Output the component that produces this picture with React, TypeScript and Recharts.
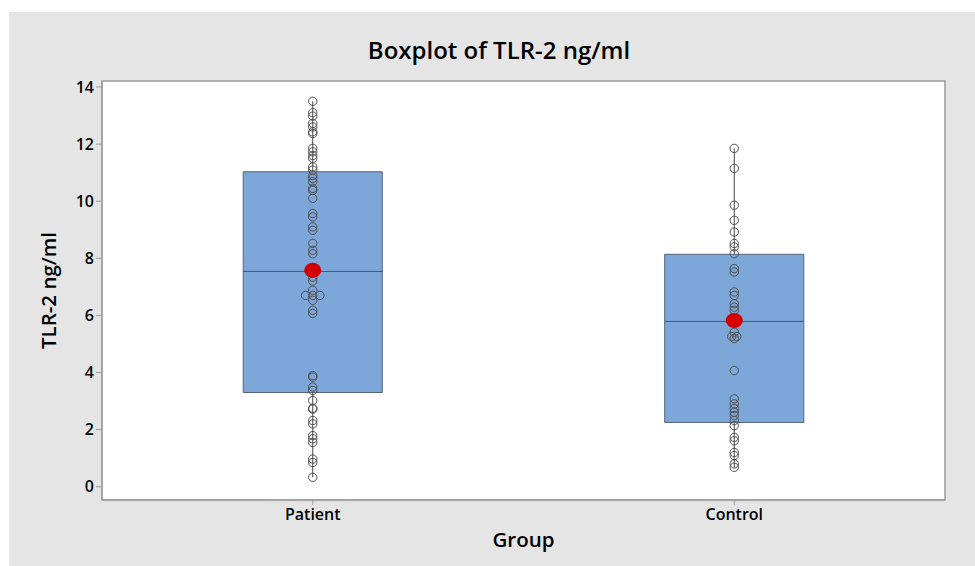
import React from 'react';
import { ComposedChart, XAxis, YAxis, Scatter, ReferenceArea, ReferenceLine } from 'recharts';

const groups = ['Patient', 'Control'];
const groupPos = [1, 2];

const patientValues = [
  13.5, 13.1, 12.98, 12.73, 12.6, 12.43, 12.37, 11.85, 11.73, 11.6, 11.5, 11.2, 11.09, 10.9, 10.8,
  10.68, 10.45, 10.38, 10.1, 9.57, 9.45, 9.1, 8.98, 8.52, 8.28, 8.16, 7.34, 7.2, 6.88, 6.7, 6.7, 6.7,
  6.53, 6.18, 6.07, 3.89, 3.84, 3.49, 3.37, 3.02, 2.75, 2.72, 2.32, 2.2, 1.79, 1.68, 1.55, 0.97, 0.85, 0.33,
];
const controlValues = [
  11.85, 11.15, 9.86, 9.33, 8.92, 8.52, 8.4, 8.16, 7.64, 7.52, 6.82, 6.7, 6.41, 6.29, 6.18, 5.41, 5.26,
  5.26, 5.19, 4.07, 3.08, 2.9, 2.74, 2.61, 2.49, 2.32, 2.14, 1.73, 1.61, 1.2, 1.09, 0.8, 0.68,
];
// small horizontal spread for tied points (index -> offset in group units)
const patientSpread: Record<number, number> = { 29: -0.017, 31: 0.017 };
const controlSpread: Record<number, number> = { 16: -0.006, 17: 0.006 };

const q1 = [3.3, 2.25];
const medians = [7.54, 5.79];
const q3 = [11.03, 8.14];
const means = [7.58, 5.82];

const yTicks = [0, 2, 4, 6, 8, 10, 12, 14];
const boxHalf = 0.165;

const toPoints = (vals: number[], x: number, spread: Record<number, number>) =>
  vals.map((v, i) => ({ x: x + (spread[i] || 0), y: v }));

const patientPts = toPoints(patientValues, groupPos[0], patientSpread);
const controlPts = toPoints(controlValues, groupPos[1], controlSpread);
const meanPts = means.map((m, i) => ({ x: groupPos[i], y: m }));
const allVals = [patientValues, controlValues];

const FONT = '"Open Sans", "Noto Sans", sans-serif';

const OpenCircle = (p: any) => (
  <circle cx={p.cx} cy={p.cy} r={4.2} fill="none" stroke="#505050" strokeWidth={1} />
);
const MeanDot = (p: any) => (
  <ellipse cx={p.cx} cy={p.cy} rx={8.5} ry={7.5} fill="#D40000" stroke="none" />
);

export default function App() {
  return (
    <div style={{ position: 'absolute', left: 0, top: 0, width: 975, height: 566, background: '#fff', overflow: 'hidden' }}>
      <div style={{ position: 'absolute', left: 9, top: 12, width: 966, height: 554, background: '#E5E5E5' }} />
      <div
        style={{
          position: 'absolute', left: 0, top: 35, width: 998, textAlign: 'center',
          fontFamily: FONT, fontWeight: 600, fontSize: 24, color: '#000', lineHeight: '30px',
          whiteSpace: 'nowrap',
        }}
      >
        Boxplot of TLR-2 ng/ml
      </div>
      <div style={{ position: 'absolute', left: 10, top: 12 }}>
        <ComposedChart width={965} height={554} margin={{ top: 69, right: 30, bottom: 0, left: 0 }}>
          <XAxis
            dataKey="x"
            type="number"
            domain={[0.5, 2.5]}
            ticks={groupPos}
            tickFormatter={(v: number) => groups[groupPos.indexOf(v)] ?? ''}
            height={66}
            axisLine={{ stroke: '#999' }}
            tickLine={{ stroke: '#999' }}
            tickSize={5}
            tickMargin={4}
            tick={{ fill: '#000', fontFamily: FONT, fontWeight: 600, fontSize: 16 }}
            label={{
              content: (p: any) => {
                const vb = p.viewBox || { x: 92, width: 843 };
                return (
                  <text x={vb.x + vb.width / 2} y={535} textAnchor="middle" fontFamily={FONT} fontWeight={600} fontSize={20.5} fill="#000">
                    Group
                  </text>
                );
              },
            }}
          />
          <YAxis
            dataKey="y"
            type="number"
            domain={[-0.465, 14.21]}
            ticks={yTicks}
            width={92}
            axisLine={{ stroke: '#999' }}
            tickLine={{ stroke: '#999' }}
            tickSize={6}
            tick={{ fill: '#000', fontFamily: FONT, fontWeight: 600, fontSize: 16 }}
            label={{
              content: (p: any) => {
                const vb = p.viewBox || { y: 69, height: 419 };
                const cy = vb.y + vb.height / 2;
                return (
                  <text x={38} y={cy} transform={`rotate(-90 38 ${cy})`} textAnchor="middle" dominantBaseline="central" fontFamily={FONT} fontWeight={600} fontSize={20.5} fill="#000">
                    TLR-2 ng/ml
                  </text>
                );
              },
            }}
          />
          <ReferenceArea x1={0.5} x2={2.5} y1={-0.465} y2={14.21} fill="#fff" fillOpacity={1} stroke="#9a9a9a" strokeWidth={1.5} />
          {groupPos.map((g, i) => (
            <ReferenceLine key={`wl${i}`} segment={[{ x: g, y: Math.min(...allVals[i]) }, { x: g, y: q1[i] }]} stroke="#444" strokeWidth={1} />
          ))}
          {groupPos.map((g, i) => (
            <ReferenceLine key={`wh${i}`} segment={[{ x: g, y: q3[i] }, { x: g, y: Math.max(...allVals[i]) }]} stroke="#444" strokeWidth={1} />
          ))}
          {groupPos.map((g, i) => (
            <ReferenceArea key={`b${i}`} x1={g - boxHalf} x2={g + boxHalf} y1={q1[i]} y2={q3[i]} fill="#7DA6D9" fillOpacity={1} stroke="#56657a" strokeWidth={1} />
          ))}
          {groupPos.map((g, i) => (
            <ReferenceLine key={`m${i}`} segment={[{ x: g - boxHalf, y: medians[i] }, { x: g + boxHalf, y: medians[i] }]} stroke="#4a5566" strokeWidth={1} />
          ))}
          <Scatter data={patientPts} dataKey="y" shape={OpenCircle} isAnimationActive={false} />
          <Scatter data={controlPts} dataKey="y" shape={OpenCircle} isAnimationActive={false} />
          <Scatter data={meanPts} dataKey="y" shape={MeanDot} isAnimationActive={false} />
        </ComposedChart>
      </div>
    </div>
  );
}
